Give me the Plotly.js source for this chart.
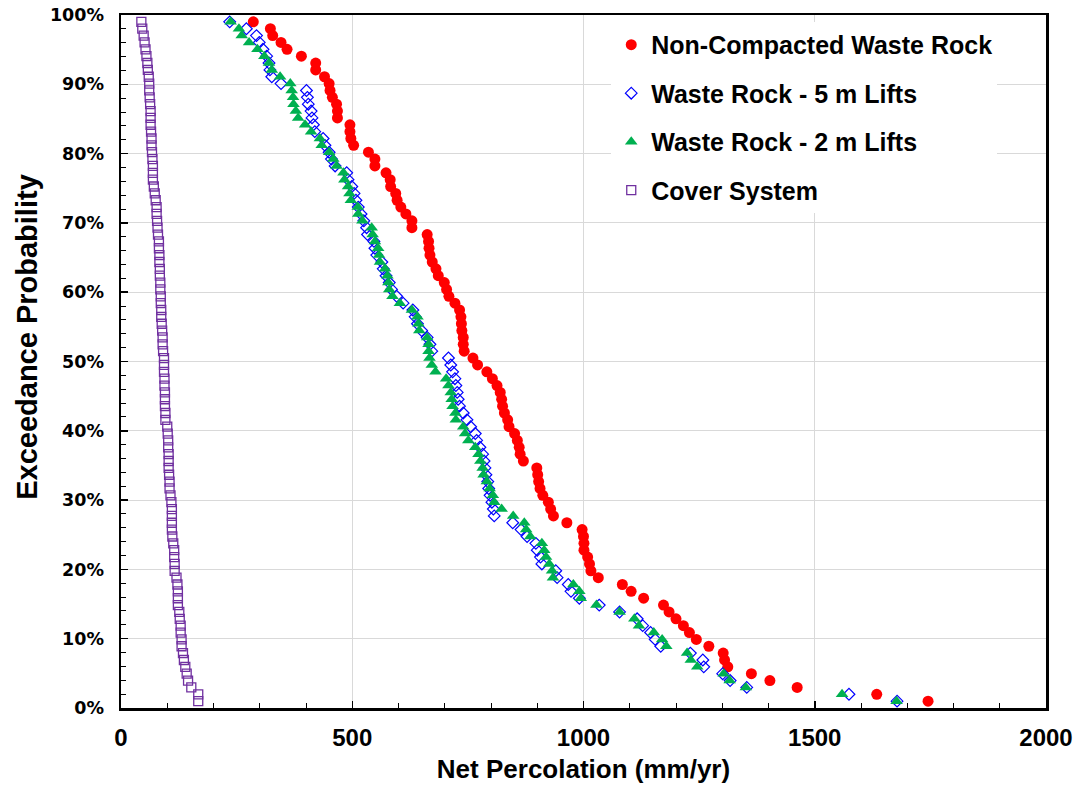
<!DOCTYPE html>
<html>
<head>
<meta charset="utf-8">
<script src="https://cdn.plot.ly/plotly-3.0.1.min.js"></script>
<style>
  html, body { margin: 0; padding: 0; background: #ffffff; }
  #chart { width: 1075px; height: 787px; }
</style>
</head>
<body>
<div id="chart"></div>
<script>
// Exceedance probability (%) of each ranked point, top (smallest value) to bottom
const exceedance = [
  99.01, 98.02, 97.03, 96.04, 95.05, 94.06, 93.07, 92.08, 91.09, 90.10,
  89.11, 88.12, 87.13, 86.14, 85.15, 84.16, 83.17, 82.18, 81.19, 80.20,
  79.21, 78.22, 77.23, 76.24, 75.25, 74.26, 73.27, 72.28, 71.29, 70.30,
  69.31, 68.32, 67.33, 66.34, 65.35, 64.36, 63.37, 62.38, 61.39, 60.40,
  59.41, 58.42, 57.43, 56.44, 55.45, 54.46, 53.47, 52.48, 51.49, 50.50,
  49.50, 48.51, 47.52, 46.53, 45.54, 44.55, 43.56, 42.57, 41.58, 40.59,
  39.60, 38.61, 37.62, 36.63, 35.64, 34.65, 33.66, 32.67, 31.68, 30.69,
  29.70, 28.71, 27.72, 26.73, 25.74, 24.75, 23.76, 22.77, 21.78, 20.79,
  19.80, 18.81, 17.82, 16.83, 15.84, 14.85, 13.86, 12.87, 11.88, 10.89,
  9.90, 8.91, 7.92, 6.93, 5.94, 4.95, 3.96, 2.97, 1.98, 0.99
];

// Net percolation (mm/yr), Non-Compacted Waste Rock
const nonCompacted = [
  286, 323, 328, 346, 359, 390, 421, 421, 440, 450,
  452, 457, 466, 468, 468, 495, 495, 497, 503, 535,
  549, 549, 573, 582, 583, 594, 597, 605, 616, 629,
  629, 662, 665, 666, 668, 673, 681, 686, 699, 704,
  709, 722, 732, 735, 736, 737, 740, 740, 742, 761,
  771, 791, 803, 813, 820, 823, 825, 829, 836, 839,
  851, 857, 861, 863, 870, 899, 901, 903, 906, 912,
  924, 929, 935, 964, 997, 1000, 1001, 1001, 1009, 1013,
  1016, 1032, 1084, 1103, 1130, 1173, 1185, 1200, 1216, 1229,
  1244, 1271, 1302, 1305, 1312, 1363, 1403, 1462, 1634, 1745
];

// Waste Rock - 5 m Lifts
const lifts5m = [
  235, 271, 293, 299, 307, 315, 320, 322, 326, 346,
  401, 403, 405, 411, 413, 416, 419, 437, 441, 450,
  455, 463, 488, 491, 499, 504, 508, 513, 519, 525,
  531, 533, 547, 549, 553, 564, 567, 573, 580, 585,
  596, 610, 631, 636, 641, 650, 662, 668, 672, 708,
  713, 717, 722, 724, 727, 729, 732, 740, 748, 756,
  766, 769, 776, 782, 785, 787, 789, 793, 795, 798,
  802, 805, 807, 847, 865, 878, 897, 900, 907, 910,
  940, 943, 967, 973, 991, 1034, 1078, 1116, 1128, 1145,
  1155, 1167, 1231, 1258, 1260, 1301, 1317, 1353, 1574, 1678
];

// Waste Rock - 2 m Lifts
const lifts2m = [
  237, 255, 261, 277, 295, 310, 320, 326, 344, 366,
  369, 372, 373, 378, 383, 398, 411, 430, 434, 450,
  459, 466, 481, 483, 491, 494, 497, 512, 513, 522,
  542, 544, 549, 556, 558, 560, 571, 576, 578, 580,
  587, 603, 629, 641, 643, 645, 662, 665, 665, 667,
  672, 680, 703, 708, 713, 715, 717, 723, 724, 740,
  744, 751, 766, 773, 777, 782, 784, 791, 797, 804,
  807, 823, 848, 872, 876, 885, 910, 915, 919, 926,
  932, 934, 978, 991, 994, 1028, 1078, 1110, 1120, 1152,
  1170, 1179, 1224, 1232, 1246, 1303, 1316, 1351, 1559, 1677
];

// Cover System
const coverSystem = [
  44, 46, 49, 51, 53, 55, 57, 58, 60, 61,
  61, 62, 63, 64, 64, 64, 65, 66, 66, 67,
  68, 69, 69, 69, 71, 73, 75, 77, 77, 78,
  79, 80, 82, 82, 83, 83, 84, 84, 85, 85,
  86, 86, 87, 87, 88, 89, 90, 90, 91, 93,
  93, 93, 94, 94, 95, 95, 95, 96, 96, 100,
  101, 102, 102, 103, 103, 103, 104, 105, 105, 107,
  109, 110, 110, 110, 110, 111, 113, 115, 115, 116,
  116, 120, 122, 123, 123, 123, 126, 127, 129, 129,
  131, 131, 134, 136, 139, 142, 145, 152, 167, 167
];

const seriesNames = [
  'Non-Compacted Waste Rock',
  'Waste Rock - 5 m Lifts',
  'Waste Rock - 2 m Lifts',
  'Cover System'
];

const xTitle = 'Net Percolation (mm/yr)';
const yTitle = 'Exceedance Probability';

const xTickVals = [0, 500, 1000, 1500, 2000];
const yTickVals = [0, 10, 20, 30, 40, 50, 60, 70, 80, 90, 100];

const traces = [
  {
    x: nonCompacted, y: exceedance, name: seriesNames[0], legendgroup: 'a',
    type: 'scatter', mode: 'markers',
    marker: { symbol: 'circle', size: 11, color: '#FF0000', line: { width: 0 } }
  },
  {
    x: lifts5m, y: exceedance, name: seriesNames[1], legendgroup: 'b',
    type: 'scatter', mode: 'markers',
    marker: { symbol: 'diamond-open', size: 9, color: '#0000FF', line: { width: 1.2, color: '#0000FF' } }
  },
  {
    x: lifts2m, y: exceedance, name: seriesNames[2], legendgroup: 'c',
    type: 'scatter', mode: 'markers',
    marker: { symbol: 'triangle-up', size: 11, color: '#00B050', line: { width: 0 } }
  },
  {
    x: coverSystem, y: exceedance, name: seriesNames[3], legendgroup: 'd',
    type: 'scatter', mode: 'markers',
    marker: { symbol: 'square-open', size: 9, color: '#7030A0', line: { width: 1.3, color: '#7030A0' } }
  }
];

const sans = 'Liberation Sans, Arial, sans-serif';

const layout = {
  width: 1075,
  height: 787,
  margin: { l: 121, r: 29, t: 15, b: 79 },
  paper_bgcolor: '#ffffff',
  plot_bgcolor: '#ffffff',
  showlegend: true,
  legend: {
    x: 0.53, y: 0.99, xanchor: 'left', yanchor: 'top',
    bgcolor: '#ffffff', borderwidth: 0,
    traceorder: 'grouped', tracegroupgap: 13,
    font: { family: sans, size: 25, color: '#000000', weight: 'bold' },
    itemsizing: 'trace'
  },
  xaxis: {
    range: [0, 2000],
    tickvals: xTickVals,
    ticktext: xTickVals.map(String),
    ticks: 'inside', ticklen: 7, tickwidth: 1.5, tickcolor: '#000000',
    minor: { dtick: 100, ticks: 'inside', ticklen: 5, tickwidth: 1, tickcolor: '#000000', showgrid: false },
    showgrid: true, gridcolor: '#D9D9D9', gridwidth: 1,
    showline: true, linecolor: '#000000', linewidth: 2.5, mirror: true,
    zeroline: false,
    ticklabelstandoff: 7,
    tickfont: { family: sans, size: 24, color: '#000000', weight: 'bold' },
    title: { text: xTitle, standoff: 10,
             font: { family: sans, size: 26, color: '#000000', weight: 'bold' } }
  },
  yaxis: {
    range: [0, 100],
    tickvals: yTickVals,
    ticktext: yTickVals.map(v => v + '%'),
    ticks: 'inside', ticklen: 7, tickwidth: 1.5, tickcolor: '#000000',
    minor: { dtick: 2, ticks: 'inside', ticklen: 5, tickwidth: 1, tickcolor: '#000000', showgrid: false },
    showgrid: true, gridcolor: '#D9D9D9', gridwidth: 1,
    showline: true, linecolor: '#000000', linewidth: 2.5, mirror: true,
    zeroline: false,
    ticklabelstandoff: 11,
    tickfont: { family: 'DejaVu Sans, Verdana, sans-serif', size: 17.5, color: '#000000', weight: 'bold' },
    title: { text: '' }
  },
  annotations: [
    {
      text: yTitle, xref: 'paper', yref: 'paper',
      x: -0.101, y: 0.535, xanchor: 'center', yanchor: 'middle',
      textangle: -90, showarrow: false,
      font: { family: sans, size: 29, color: '#000000', weight: 'bold' }
    }
  ]
};

Plotly.newPlot('chart', traces, layout, { displayModeBar: false, staticPlot: true });
</script>
</body>
</html>
